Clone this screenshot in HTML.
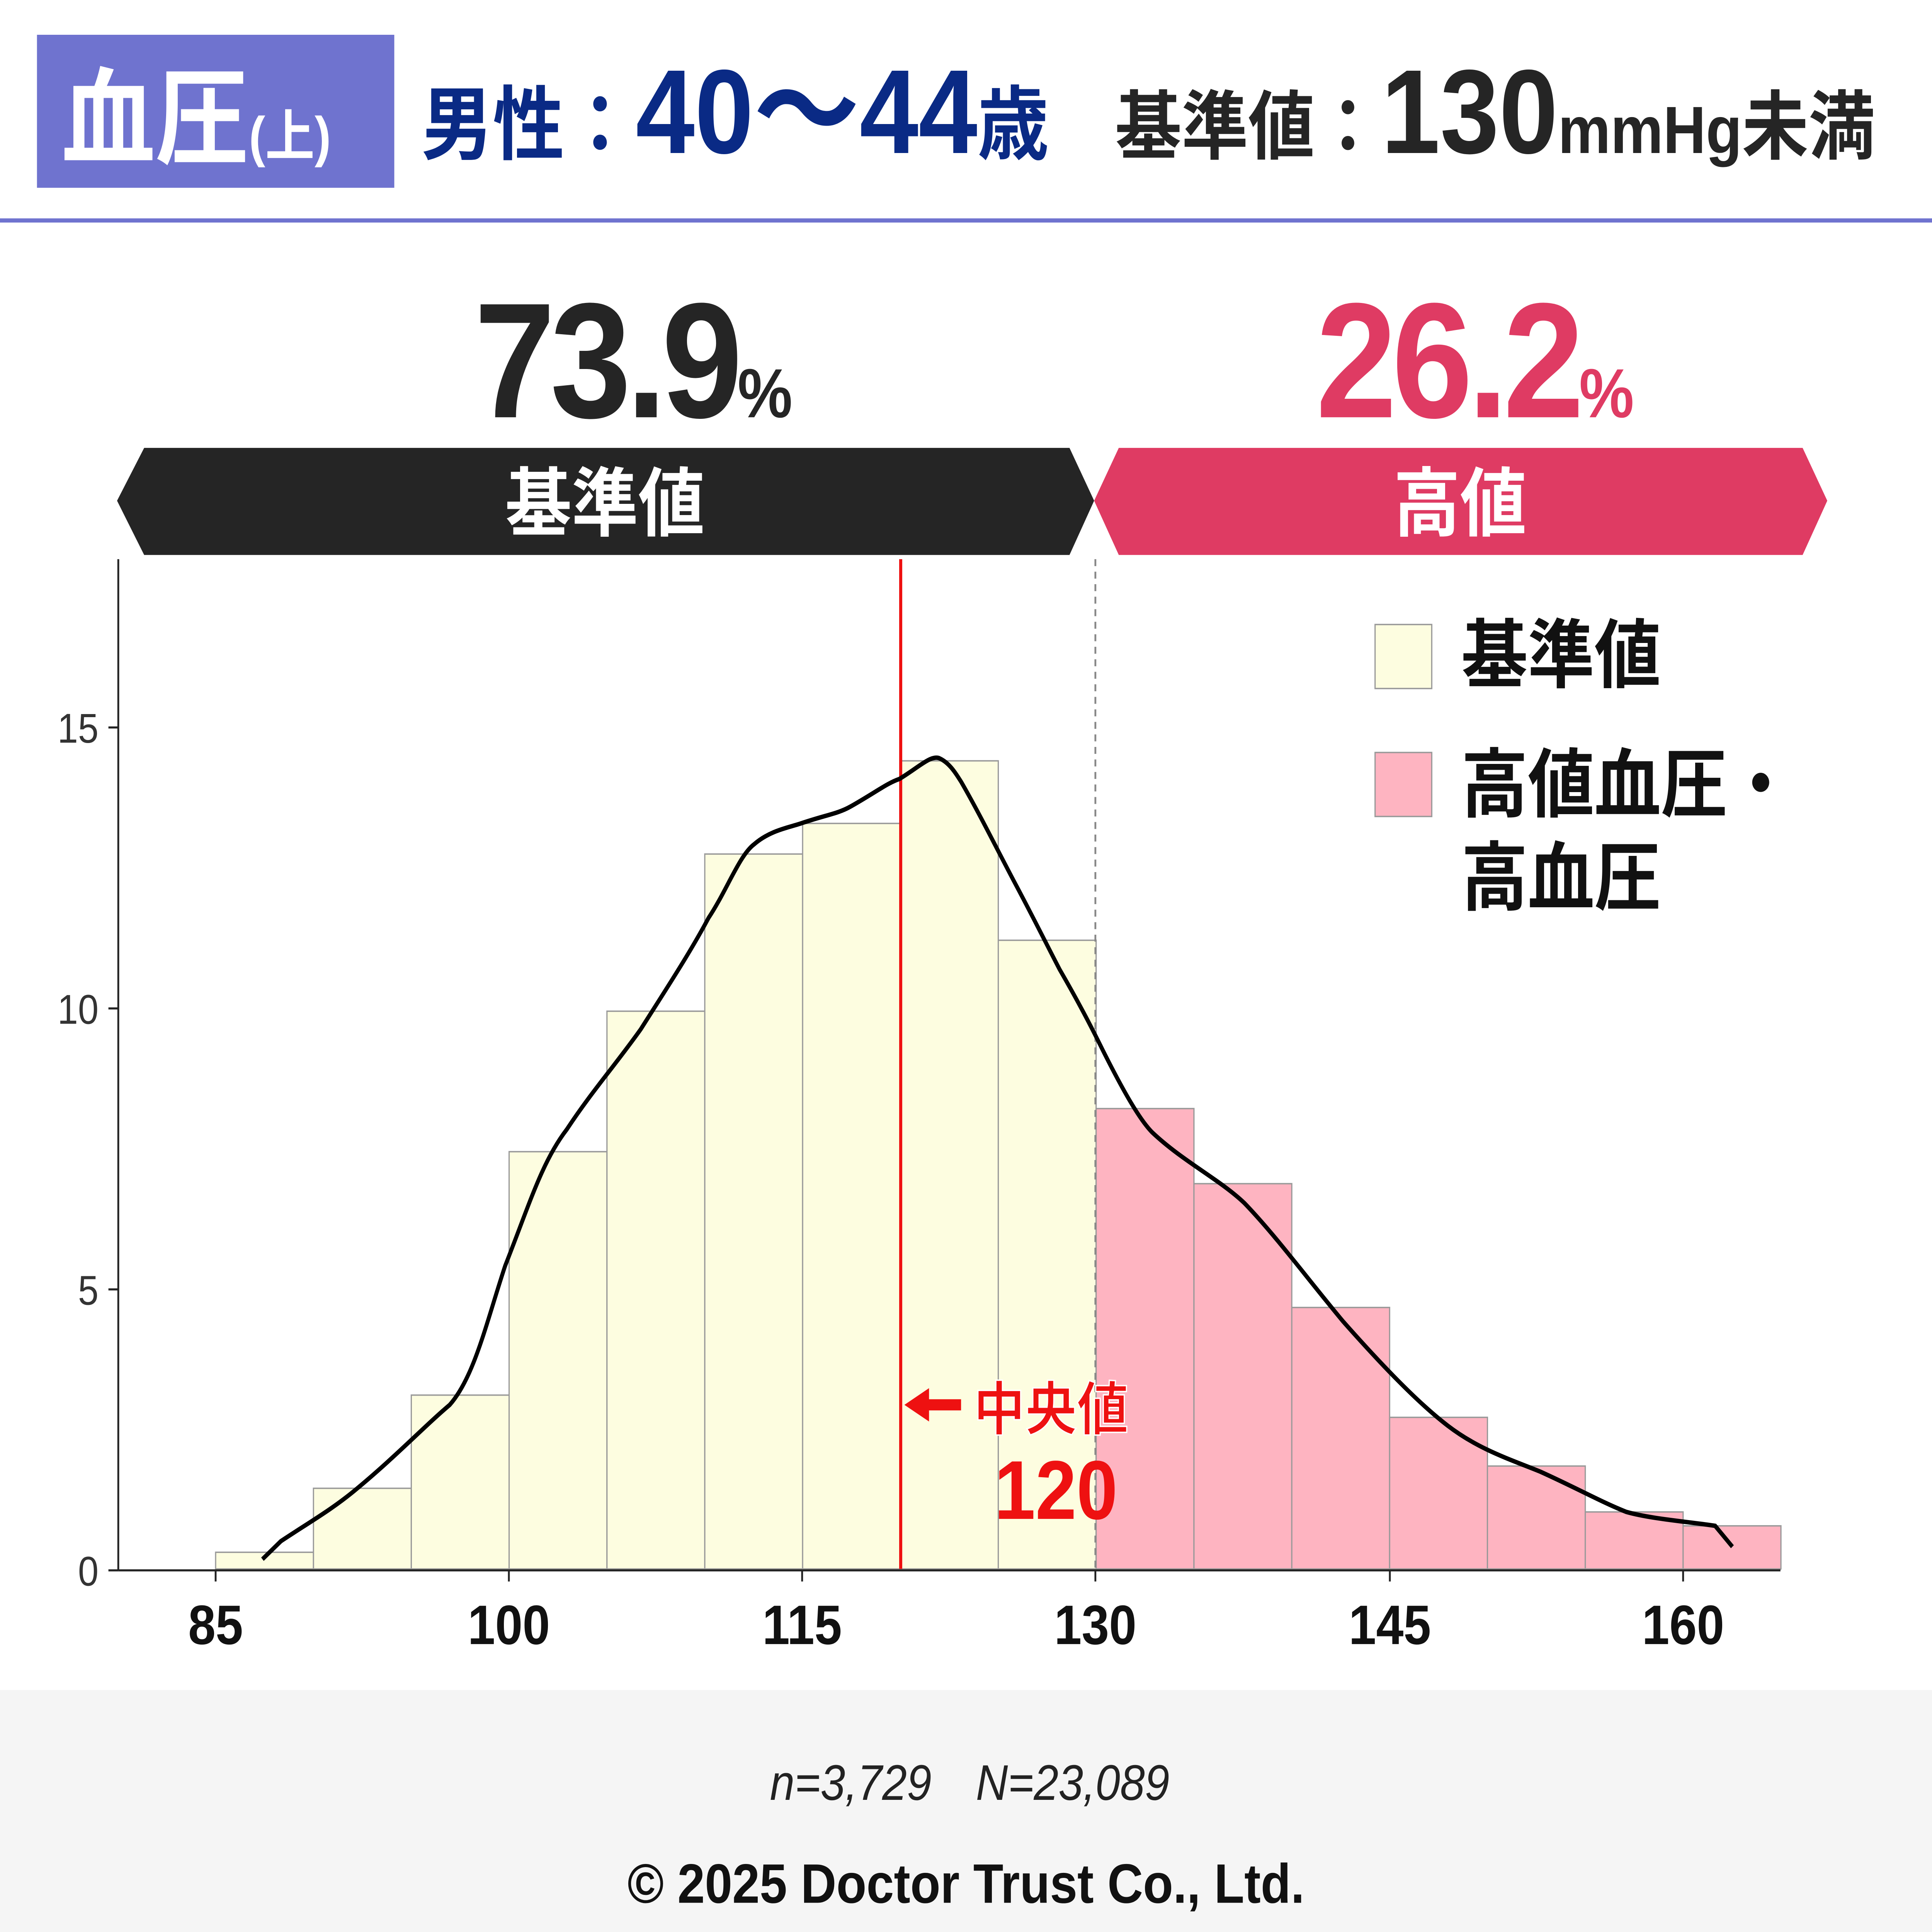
<!DOCTYPE html>
<html><head><meta charset="utf-8"><style>
html,body{margin:0;padding:0;background:#fff;width:100%;height:100%;overflow:hidden;}
svg{display:block;position:fixed;left:0;top:0;width:100vw;height:100vh;}
text{font-family:"Liberation Sans","Noto Sans CJK JP",sans-serif;}
</style></head><body>
<svg viewBox="0 0 1568 1389" preserveAspectRatio="none" xmlns="http://www.w3.org/2000/svg">
<rect x="0" y="0" width="1568" height="1389" fill="#fff"/>
<rect x="30" y="25" width="290" height="110" fill="#6f73cf"/>
<text x="50" y="112" font-size="76" font-weight="bold" fill="#fff">血圧<tspan font-size="40">(上)</tspan></text>
<text x="342" y="110" font-size="58" font-weight="bold" fill="#0a2a85">男性：<tspan font-size="86">40〜44</tspan>歳</text>
<text x="905" y="110" font-size="54" font-weight="bold" fill="#252525">基準値：<tspan font-size="86">130</tspan><tspan font-size="48">mmHg</tspan>未満</text>
<rect x="0" y="157" width="1568" height="3" fill="#6f73cf"/>
<text x="385" y="300" font-size="118" font-weight="bold" fill="#252525" letter-spacing="-4">73.9<tspan font-size="50">%</tspan></text>
<text x="1068" y="300" font-size="118" font-weight="bold" fill="#df3b63" letter-spacing="-4">26.2<tspan font-size="50">%</tspan></text>
<polygon points="95,360 117,322 868,322 888,360 868,399 117,399" fill="#252525"/>
<polygon points="888,360 908,322 1463,322 1483,360 1463,399 908,399" fill="#df3b63"/>
<text x="491" y="381" font-size="54" font-weight="bold" fill="#fff" text-anchor="middle">基準値</text>
<text x="1185" y="381" font-size="54" font-weight="bold" fill="#fff" text-anchor="middle">高値</text>
<g stroke="#999" stroke-width="1">
<rect x="175" y="1116" width="79.4" height="12" fill="#fdfde0"/>
<rect x="254.4" y="1070" width="79.4" height="58" fill="#fdfde0"/>
<rect x="333.8" y="1003" width="79.4" height="125" fill="#fdfde0"/>
<rect x="413.2" y="828" width="79.4" height="300" fill="#fdfde0"/>
<rect x="492.6" y="727" width="79.4" height="401" fill="#fdfde0"/>
<rect x="572" y="614" width="79.4" height="514" fill="#fdfde0"/>
<rect x="651.4" y="592" width="79.4" height="536" fill="#fdfde0"/>
<rect x="730.8" y="547" width="79.4" height="581" fill="#fdfde0"/>
<rect x="810.2" y="676" width="79.4" height="452" fill="#fdfde0"/>
<rect x="889.6" y="797" width="79.4" height="331" fill="#feb4c1"/>
<rect x="969" y="851" width="79.4" height="277" fill="#feb4c1"/>
<rect x="1048.4" y="940" width="79.4" height="188" fill="#feb4c1"/>
<rect x="1127.8" y="1019" width="79.4" height="109" fill="#feb4c1"/>
<rect x="1207.2" y="1054" width="79.4" height="74" fill="#feb4c1"/>
<rect x="1286.6" y="1087" width="79.4" height="41" fill="#feb4c1"/>
<rect x="1366" y="1097" width="79.4" height="31" fill="#feb4c1"/>
</g>
<line x1="889" y1="402" x2="889" y2="1128" stroke="#888" stroke-width="1.5" stroke-dasharray="5,4"/>
<line x1="731" y1="402" x2="731" y2="1128" stroke="#ee1111" stroke-width="2.5"/>
<path d="M213,1121 L228,1108 C250,1095 270,1085 290,1070 C320,1048 345,1025 365,1010 C385,990 395,950 410,910 C430,865 440,835 460,812 C480,785 500,765 520,740 C540,712 560,685 575,660 C590,640 600,615 612,607 C625,597 640,595 650,592 C670,586 680,585 690,580 C710,570 720,563 730,560 C745,552 755,543 762,545 C770,548 775,555 780,562 C795,585 810,612 825,637 C840,662 850,680 860,697 C875,720 885,737 895,755 C912,785 925,805 935,814 C960,835 990,848 1010,865 C1035,888 1060,918 1090,950 C1120,980 1150,1008 1175,1025 C1200,1042 1225,1049 1250,1058 C1280,1070 1300,1080 1320,1087 C1340,1092 1370,1094 1392,1097 L1406,1112" fill="none" stroke="#000" stroke-width="3.2"/>
<line x1="96" y1="402" x2="96" y2="1129" stroke="#222" stroke-width="1.5"/>
<line x1="96" y1="1129" x2="1445" y2="1129" stroke="#222" stroke-width="1.5"/>
<g stroke="#222" stroke-width="1.5">
<line x1="88" y1="1129" x2="96" y2="1129"/><line x1="88" y1="927" x2="96" y2="927"/><line x1="88" y1="725" x2="96" y2="725"/><line x1="88" y1="523" x2="96" y2="523"/>
<line x1="175" y1="1129" x2="175" y2="1137"/><line x1="413" y1="1129" x2="413" y2="1137"/><line x1="651" y1="1129" x2="651" y2="1137"/><line x1="889" y1="1129" x2="889" y2="1137"/><line x1="1128" y1="1129" x2="1128" y2="1137"/><line x1="1366" y1="1129" x2="1366" y2="1137"/>
</g>
<g font-size="30" fill="#333" text-anchor="end">
<text x="80" y="1140">0</text><text x="80" y="938">5</text><text x="80" y="736">10</text><text x="80" y="534">15</text>
</g>
<g font-size="40" font-weight="bold" fill="#111" text-anchor="middle">
<text x="175" y="1182">85</text><text x="413" y="1182">100</text><text x="651" y="1182">115</text><text x="889" y="1182">130</text><text x="1128" y="1182">145</text><text x="1366" y="1182">160</text>
</g>
<polygon points="734,1010 754,998 754,1006 780,1006 780,1014 754,1014 754,1022" fill="#ee1111"/>
<text x="790" y="1028" font-size="42" font-weight="bold" fill="#ee1111" stroke="#fff" stroke-width="1">中央値</text>
<text x="857" y="1092" font-size="60" font-weight="bold" fill="#ee1111" text-anchor="middle">120</text>
<rect x="1116" y="449" width="46" height="46" fill="#fdfde0" stroke="#999"/>
<rect x="1116" y="541" width="46" height="46" fill="#feb4c1" stroke="#999"/>
<g font-size="54" font-weight="bold" fill="#111">
<text x="1186" y="490">基準値</text>
<text x="1186" y="583">高値血圧・</text>
<text x="1186" y="650">高血圧</text>
</g>
<rect x="0" y="1215" width="1568" height="174" fill="#f5f5f5"/>
<text x="787" y="1294" font-size="36" font-style="italic" fill="#222" text-anchor="middle">n=3,729　N=23,089</text>
<text x="784" y="1368" font-size="40" font-weight="bold" fill="#111" text-anchor="middle">© 2025 Doctor Trust Co., Ltd.</text>
</svg>
</body></html>
